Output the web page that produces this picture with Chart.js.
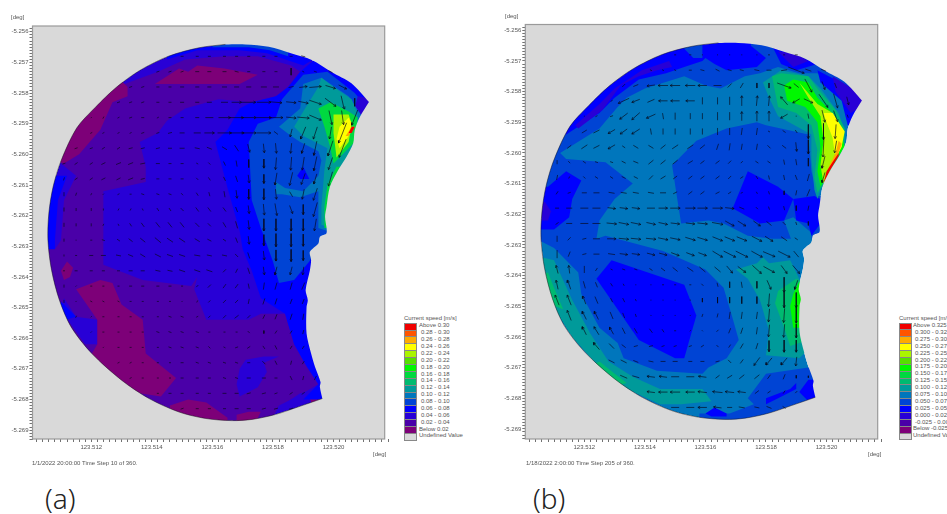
<!DOCTYPE html>
<html lang="en">
<head>
<meta charset="UTF-8">
<title>Current speed maps</title>
<script src="https://cdn.jsdelivr.net/npm/chart.js"></script>
<style>
html, body { margin: 0; background: #fff; width: 947px; height: 514px; overflow: hidden; }
canvas { position: absolute; top: 0; filter: blur(0.4px); }
.txt { position: absolute; font: 6px "Liberation Sans", Arial, sans-serif; color: #555; white-space: nowrap; line-height: 7px; }
.tag { position: absolute; font: 300 28px "Noto Sans", sans-serif; color: #222; line-height: 34px; }
.sw { position: absolute; width: 11px; height: 5.9px; border: 0.5px solid #888; }
</style>
</head>
<body>
<canvas id="chartA" width="390" height="470" style="left:0"></canvas>
<canvas id="chartB" width="390" height="470" style="left:493px"></canvas>
<div id="labels"></div>
<script>
// tick labels
const xTickLabels = [123.512, 123.514, 123.516, 123.518, 123.520];
const yTickLabels = [-5.256, -5.257, -5.258, -5.259, -5.260, -5.261, -5.262, -5.263, -5.264, -5.265, -5.266, -5.267, -5.268, -5.269];

// colour classes, lowest speed first
const classColors = ['#7d0078', '#4a00a8', '#2800d6', '#0000ff', '#0044d4', '#0076bc', '#009a9a', '#00ba70', '#00d840', '#00f800', '#55e000', '#aaf500', '#ffff00', '#ffaa00', '#ff5500', '#f00000'];
const undefinedColor = '#d9d9d9';
const legendTitle = 'Current speed [m/s]';
const aLegend = ['Below 0.02', '0.02 - 0.04', '0.04 - 0.06', '0.06 - 0.08', '0.08 - 0.10', '0.10 - 0.12', '0.12 - 0.14', '0.14 - 0.16', '0.16 - 0.18', '0.18 - 0.20', '0.20 - 0.22', '0.22 - 0.24', '0.24 - 0.26', '0.26 - 0.28', '0.28 - 0.30', 'Above 0.30'];
const bLegend = ['Below -0.025', '-0.025 - 0.000', '0.000 - 0.025', '0.025 - 0.050', '0.050 - 0.075', '0.075 - 0.100', '0.100 - 0.125', '0.125 - 0.150', '0.150 - 0.175', '0.175 - 0.200', '0.200 - 0.225', '0.225 - 0.250', '0.250 - 0.275', '0.275 - 0.300', '0.300 - 0.325', 'Above 0.325'];

// model domain outline [lon, lat]; the two sharp corners are listed twice
const domain = [[123.51643,-5.25641],[123.51556,-5.25652],[123.51457,-5.25679],[123.51362,-5.25725],[123.51283,-5.25781],[123.51214,-5.25846],[123.51152,-5.25914],[123.51101,-5.26019],[123.51074,-5.26106],[123.51060,-5.26192],[123.51057,-5.26280],[123.51069,-5.26378],[123.51095,-5.26476],[123.51134,-5.26564],[123.51201,-5.26649],[123.51300,-5.26737],[123.51391,-5.26797],[123.51490,-5.26841],[123.51578,-5.26862],[123.51664,-5.26869],[123.51731,-5.26865],[123.51808,-5.26849],[123.51884,-5.26824],[123.51963,-5.26797],[123.51963,-5.26797],[123.51955,-5.26759],[123.51957,-5.26743],[123.51939,-5.26694],[123.51926,-5.26650],[123.51911,-5.26585],[123.51911,-5.26498],[123.51915,-5.26476],[123.51908,-5.26443],[123.51922,-5.26378],[123.51926,-5.26345],[123.51922,-5.26318],[123.51950,-5.26291],[123.51955,-5.26269],[123.51977,-5.26257],[123.51972,-5.26204],[123.51977,-5.26171],[123.51988,-5.26106],[123.52015,-5.26052],[123.52043,-5.26008],[123.52065,-5.25964],[123.52070,-5.25921],[123.52087,-5.25878],[123.52117,-5.25829],[123.52117,-5.25829],[123.52059,-5.25768],[123.51993,-5.25731],[123.51928,-5.25692],[123.51862,-5.25671],[123.51786,-5.25649],[123.51709,-5.25641]];

// panel (a) contour regions
const a1Main = [[123.5110,-5.2603],[123.5114,-5.2594],[123.5121,-5.2584],[123.5131,-5.2577],[123.5142,-5.2573],[123.5151,-5.2569],[123.5164,-5.2568],[123.5175,-5.2568],[123.5186,-5.2571],[123.5189,-5.2573],[123.5185,-5.2578],[123.5181,-5.2581],[123.5173,-5.2583],[123.5162,-5.2582],[123.5151,-5.2585],[123.5145,-5.2589],[123.5142,-5.2593],[123.5136,-5.2596],[123.5138,-5.2604],[123.5138,-5.2609],[123.5124,-5.2612],[123.5124,-5.2636],[123.5137,-5.2641],[123.5153,-5.2643],[123.5155,-5.2640],[123.5154,-5.2644],[123.5158,-5.2654],[123.5172,-5.2654],[123.5176,-5.2652],[123.5184,-5.2652],[123.5187,-5.2662],[123.5191,-5.2669],[123.5195,-5.2675],[123.5188,-5.2679],[123.5182,-5.2682],[123.5178,-5.2690],[123.5123,-5.2690],[123.5103,-5.2648],[123.5105,-5.2625],[123.5108,-5.2631],[123.5110,-5.2628],[123.5111,-5.2615],[123.5115,-5.2607]];
const a2Sw = [[123.5111,-5.2647],[123.5115,-5.2653],[123.5122,-5.2654],[123.5122,-5.2662],[123.5118,-5.2662],[123.5110,-5.2651]];
const a2Blob = [[123.5169,-5.2670],[123.5171,-5.2667],[123.5177,-5.2666],[123.5182,-5.2666],[123.5177,-5.2668],[123.5178,-5.2671],[123.5175,-5.2676],[123.5169,-5.2679],[123.5168,-5.2675]];
const a2Se = [[123.5183,-5.2682],[123.5189,-5.2678],[123.5195,-5.2677],[123.5198,-5.2680],[123.5188,-5.2687]];
const a0North = [[123.5141,-5.2577],[123.5149,-5.2572],[123.5152,-5.2573],[123.5155,-5.2571],[123.5164,-5.2572],[123.5175,-5.2574],[123.5169,-5.2577],[123.5160,-5.2577],[123.5150,-5.2577]];
const a0Nw = [[123.5132,-5.2578],[123.5132,-5.2581],[123.5127,-5.2583],[123.5123,-5.2592],[123.5116,-5.2600],[123.5111,-5.2603],[123.5108,-5.2602],[123.5114,-5.2590],[123.5121,-5.2582],[123.5129,-5.2575]];
const a0West = [[123.5112,-5.2635],[123.5114,-5.2637],[123.5113,-5.2640],[123.5111,-5.2641],[123.5110,-5.2638]];
const a0Sw = [[123.5115,-5.2644],[123.5123,-5.2641],[123.5127,-5.2642],[123.5130,-5.2649],[123.5137,-5.2654],[123.5138,-5.2665],[123.5148,-5.2673],[123.5143,-5.2679],[123.5136,-5.2678],[123.5128,-5.2675],[123.5119,-5.2667],[123.5122,-5.2662],[123.5122,-5.2654]];
const a0South = [[123.5146,-5.2682],[123.5152,-5.2680],[123.5158,-5.2681],[123.5165,-5.2686],[123.5165,-5.2690],[123.5146,-5.2688]];
const a0South2 = [[123.5168,-5.2685],[123.5172,-5.2684],[123.5176,-5.2684],[123.5174,-5.2688],[123.5168,-5.2689]];
const a0Corner = [[123.5194,-5.2678],[123.5198,-5.2680],[123.5193,-5.2682],[123.5192,-5.2679]];
const a3East = [[123.5169,-5.2585],[123.5165,-5.2592],[123.5161,-5.2596],[123.5165,-5.2611],[123.5169,-5.2625],[123.5170,-5.2631],[123.5173,-5.2638],[123.5176,-5.2647],[123.5184,-5.2652],[123.5187,-5.2662],[123.5191,-5.2669],[123.5195,-5.2675],[123.5190,-5.2680],[123.5201,-5.2680],[123.5203,-5.2648],[123.5216,-5.2582],[123.5203,-5.2569],[123.5195,-5.2568],[123.5189,-5.2573],[123.5185,-5.2578],[123.5181,-5.2581],[123.5173,-5.2583]];
const a3Rim = [[123.5145,-5.2569],[123.5155,-5.2566],[123.5169,-5.2566],[123.5178,-5.2567],[123.5190,-5.2571],[123.5195,-5.2568],[123.5195,-5.2559],[123.5145,-5.2559]];
const a4Rim = [[123.5160,-5.2565],[123.5172,-5.2565],[123.5179,-5.2566],[123.5185,-5.2568],[123.5185,-5.2559],[123.5160,-5.2559]];
const a3West = [[123.5112,-5.2607],[123.5109,-5.2615],[123.5108,-5.2628],[123.5108,-5.2631],[123.5100,-5.2631],[123.5100,-5.2607]];
const a3Sw = [[123.5110,-5.2648],[123.5115,-5.2653],[123.5108,-5.2655]];
const a4East = [[123.5172,-5.2596],[123.5175,-5.2590],[123.5181,-5.2588],[123.5183,-5.2582],[123.5190,-5.2574],[123.5198,-5.2573],[123.5207,-5.2580],[123.5213,-5.2587],[123.5210,-5.2602],[123.5203,-5.2612],[123.5200,-5.2625],[123.5195,-5.2630],[123.5192,-5.2635],[123.5187,-5.2641],[123.5182,-5.2642],[123.5180,-5.2635],[123.5176,-5.2624],[123.5173,-5.2615]];
const a2Tip = [[123.5208,-5.2581],[123.5214,-5.2582],[123.5211,-5.2589],[123.5207,-5.2585]];
const a3Spot = [[123.5188,-5.2607],[123.5190,-5.2604],[123.5192,-5.2608],[123.5189,-5.2608]];
const a5Ring = [[123.5182,-5.2591],[123.5189,-5.2585],[123.5190,-5.2577],[123.5196,-5.2575],[123.5205,-5.2581],[123.5209,-5.2587],[123.5208,-5.2596],[123.5203,-5.2606],[123.5200,-5.2613],[123.5198,-5.2625],[123.5195,-5.2624],[123.5195,-5.2612],[123.5189,-5.2614],[123.5183,-5.2613],[123.5181,-5.2613],[123.5181,-5.2609],[123.5184,-5.2611],[123.5190,-5.2612],[123.5195,-5.2607],[123.5196,-5.2602],[123.5195,-5.2599],[123.5189,-5.2596],[123.5186,-5.2594]];
const a6Hot = [[123.5187,-5.2591],[123.5190,-5.2586],[123.5195,-5.2578],[123.5196,-5.2575],[123.5200,-5.2578],[123.5206,-5.2582],[123.5208,-5.2587],[123.5207,-5.2597],[123.5205,-5.2603],[123.5201,-5.2612],[123.5199,-5.2624],[123.5196,-5.2623],[123.5196,-5.2617],[123.5197,-5.2605],[123.5198,-5.2598],[123.5190,-5.2594]];
const a8Hot = [[123.5195,-5.2585],[123.5199,-5.2583],[123.5205,-5.2586],[123.5208,-5.2588],[123.5207,-5.2596],[123.5200,-5.2603],[123.5199,-5.2598],[123.5197,-5.2591]];
const a8Coast = [[123.5201,-5.2604],[123.5205,-5.2604],[123.5201,-5.2612],[123.5199,-5.2624],[123.5197,-5.2624],[123.5197,-5.2617],[123.5198,-5.2610]];
const a11Hot = [[123.5200,-5.2587],[123.5205,-5.2587],[123.5206,-5.2590],[123.5205,-5.2596],[123.5201,-5.2601],[123.5200,-5.2593]];
const a12Hot = [[123.5202,-5.2591],[123.5205,-5.2588],[123.5206,-5.2590],[123.5205,-5.2594],[123.5202,-5.2598],[123.5201,-5.2595]];
const a13Hot = [[123.5206,-5.2591],[123.5207,-5.2591],[123.5205,-5.2594],[123.5204,-5.2594]];
const a15Hot = [[123.5206,-5.2591],[123.5207,-5.2591],[123.5206,-5.2593],[123.5205,-5.2593]];
const aRegions = [[2,domain],[1,a1Main],[2,a2Sw],[2,a2Blob],[2,a2Se],[0,a0North],[0,a0Nw],[0,a0West],[0,a0Sw],[0,a0South],[0,a0South2],[0,a0Corner],[3,a3East],[3,a3Rim],[4,a4Rim],[3,a3West],[3,a3Sw],[4,a4East],[2,a2Tip],[3,a3Spot],[5,a5Ring],[6,a6Hot],[8,a8Hot],[8,a8Coast],[11,a11Hot],[12,a12Hot],[13,a13Hot],[15,a15Hot]];

// panel (b) contour regions
const b4North = [[123.5112,-5.2600],[123.5125,-5.2592],[123.5131,-5.2585],[123.5134,-5.2582],[123.5140,-5.2579],[123.5153,-5.2575],[123.5160,-5.2578],[123.5165,-5.2579],[123.5173,-5.2575],[123.5178,-5.2574],[123.5184,-5.2572],[123.5191,-5.2574],[123.5197,-5.2574],[123.5204,-5.2580],[123.5216,-5.2583],[123.5216,-5.2558],[123.5099,-5.2558],[123.5099,-5.2600]];
const b4West = [[123.5112,-5.2600],[123.5114,-5.2602],[123.5127,-5.2603],[123.5136,-5.2610],[123.5130,-5.2615],[123.5125,-5.2622],[123.5124,-5.2628],[123.5127,-5.2627],[123.5146,-5.2632],[123.5160,-5.2638],[123.5166,-5.2644],[123.5169,-5.2654],[123.5171,-5.2661],[123.5167,-5.2667],[123.5161,-5.2670],[123.5159,-5.2672],[123.5144,-5.2671],[123.5133,-5.2667],[123.5131,-5.2662],[123.5125,-5.2657],[123.5119,-5.2646],[123.5118,-5.2639],[123.5110,-5.2631],[123.5106,-5.2629],[123.5099,-5.2629],[123.5099,-5.2600]];
const b3West = [[123.5114,-5.2606],[123.5119,-5.2609],[123.5116,-5.2615],[123.5115,-5.2621],[123.5110,-5.2625],[123.5099,-5.2625],[123.5099,-5.2612],[123.5108,-5.2611]];
const b2West = [[123.5107,-5.2616],[123.5109,-5.2619],[123.5108,-5.2622],[123.5102,-5.2622],[123.5102,-5.2616]];
const b3Rim = [[123.5114,-5.2594],[123.5125,-5.2587],[123.5130,-5.2582],[123.5138,-5.2576],[123.5147,-5.2574],[123.5153,-5.2572],[123.5159,-5.2570],[123.5160,-5.2569],[123.5163,-5.2571],[123.5167,-5.2573],[123.5177,-5.2572],[123.5180,-5.2569],[123.5175,-5.2565],[123.5175,-5.2558],[123.5105,-5.2558],[123.5105,-5.2594]];
const b4Patch = [[123.5153,-5.2566],[123.5156,-5.2569],[123.5159,-5.2569],[123.5159,-5.2563],[123.5153,-5.2563]];
const b2Sliver = [[123.5117,-5.2591],[123.5125,-5.2584],[123.5130,-5.2579],[123.5139,-5.2573],[123.5148,-5.2570],[123.5149,-5.2572],[123.5144,-5.2573],[123.5138,-5.2575],[123.5132,-5.2578],[123.5126,-5.2586],[123.5118,-5.2592]];
const b4Center = [[123.5149,-5.2604],[123.5157,-5.2596],[123.5167,-5.2592],[123.5177,-5.2590],[123.5180,-5.2591],[123.5194,-5.2594],[123.5195,-5.2606],[123.5197,-5.2614],[123.5203,-5.2614],[123.5203,-5.2620],[123.5198,-5.2627],[123.5195,-5.2628],[123.5182,-5.2628],[123.5174,-5.2627],[123.5166,-5.2623],[123.5161,-5.2622],[123.5152,-5.2623],[123.5151,-5.2617]];
const b5Patch = [[123.5186,-5.2622],[123.5189,-5.2621],[123.5195,-5.2626],[123.5195,-5.2630],[123.5189,-5.2630]];
const b3Blob = [[123.5174,-5.2606],[123.5184,-5.2611],[123.5189,-5.2615],[123.5186,-5.2622],[123.5178,-5.2623],[123.5169,-5.2618]];
const b3Coast = [[123.5189,-5.2615],[123.5196,-5.2614],[123.5202,-5.2617],[123.5198,-5.2623],[123.5195,-5.2627],[123.5194,-5.2623],[123.5190,-5.2622]];
const b3Sw = [[123.5129,-5.2635],[123.5153,-5.2643],[123.5157,-5.2653],[123.5153,-5.2667],[123.5150,-5.2667],[123.5138,-5.2661],[123.5124,-5.2641]];
const b3Ne = [[123.5197,-5.2573],[123.5216,-5.2583],[123.5213,-5.2592],[123.5207,-5.2591],[123.5205,-5.2583],[123.5198,-5.2577]];
const b2Ne = [[123.5202,-5.2575],[123.5215,-5.2583],[123.5208,-5.2587],[123.5203,-5.2580]];
const b3Top = [[123.5182,-5.2565],[123.5197,-5.2571],[123.5190,-5.2573],[123.5185,-5.2571]];
const b2Top = [[123.5184,-5.2567],[123.5189,-5.2567],[123.5194,-5.2570],[123.5189,-5.2572]];
const b6Hot = [[123.5179,-5.2577],[123.5185,-5.2573],[123.5194,-5.2575],[123.5198,-5.2579],[123.5204,-5.2587],[123.5206,-5.2593],[123.5205,-5.2600],[123.5201,-5.2608],[123.5198,-5.2612],[123.5197,-5.2615],[123.5196,-5.2612],[123.5195,-5.2602],[123.5195,-5.2594],[123.5184,-5.2588],[123.5181,-5.2582]];
const b7Hot = [[123.5182,-5.2575],[123.5185,-5.2574],[123.5194,-5.2575],[123.5197,-5.2579],[123.5203,-5.2586],[123.5206,-5.2592],[123.5206,-5.2598],[123.5202,-5.2605],[123.5199,-5.2610],[123.5197,-5.2613],[123.5196,-5.2608],[123.5197,-5.2599],[123.5195,-5.2591],[123.5190,-5.2587],[123.5184,-5.2585],[123.5183,-5.2580]];
const b9Hot = [[123.5186,-5.2578],[123.5189,-5.2576],[123.5194,-5.2577],[123.5197,-5.2582],[123.5201,-5.2586],[123.5204,-5.2591],[123.5206,-5.2598],[123.5202,-5.2604],[123.5198,-5.2611],[123.5197,-5.2606],[123.5198,-5.2598],[123.5197,-5.2590],[123.5193,-5.2585],[123.5187,-5.2583]];
const b11Hot = [[123.5191,-5.2577],[123.5197,-5.2584],[123.5202,-5.2587],[123.5205,-5.2592],[123.5205,-5.2598],[123.5202,-5.2603],[123.5199,-5.2610],[123.5198,-5.2604],[123.5199,-5.2596],[123.5198,-5.2588],[123.5194,-5.2582]];
const b12Hot = [[123.5199,-5.2587],[123.5202,-5.2587],[123.5206,-5.2593],[123.5205,-5.2598],[123.5203,-5.2602],[123.5202,-5.2595],[123.5200,-5.2590]];
const b13Hot = [[123.5204,-5.2596],[123.5205,-5.2597],[123.5204,-5.2600],[123.5202,-5.2604],[123.5199,-5.2610],[123.5201,-5.2604],[123.5203,-5.2600]];
const b15Hot = [[123.5204,-5.2600],[123.5204,-5.2601],[123.5201,-5.2606],[123.5199,-5.2610],[123.5200,-5.2606]];
const b6Se = [[123.5170,-5.2638],[123.5177,-5.2636],[123.5179,-5.2634],[123.5181,-5.2636],[123.5188,-5.2635],[123.5191,-5.2641],[123.5194,-5.2651],[123.5194,-5.2664],[123.5191,-5.2667],[123.5180,-5.2666],[123.5181,-5.2658],[123.5178,-5.2648],[123.5174,-5.2641]];
const b7Se = [[123.5184,-5.2645],[123.5190,-5.2641],[123.5194,-5.2643],[123.5194,-5.2661],[123.5188,-5.2663],[123.5186,-5.2657],[123.5183,-5.2649]];
const b9Se = [[123.5189,-5.2646],[123.5191,-5.2642],[123.5194,-5.2643],[123.5194,-5.2657],[123.5189,-5.2657],[123.5188,-5.2650]];
const b4Se = [[123.5174,-5.2680],[123.5180,-5.2672],[123.5194,-5.2670],[123.5203,-5.2671],[123.5203,-5.2690],[123.5158,-5.2690],[123.5158,-5.2685],[123.5168,-5.2685],[123.5176,-5.2682]];
const b3Se = [[123.5180,-5.2680],[123.5188,-5.2677],[123.5190,-5.2675],[123.5190,-5.2677],[123.5184,-5.2680],[123.5180,-5.2682]];
const b3SeCoast = [[123.5194,-5.2674],[123.5200,-5.2674],[123.5200,-5.2681],[123.5194,-5.2681],[123.5191,-5.2678]];
const b3South = [[123.5160,-5.2685],[123.5163,-5.2683],[123.5167,-5.2685],[123.5167,-5.2686],[123.5162,-5.2686]];
const b6Sw = [[123.5106,-5.2634],[123.5110,-5.2635],[123.5116,-5.2648],[123.5122,-5.2659],[123.5128,-5.2668],[123.5136,-5.2673],[123.5145,-5.2677],[123.5159,-5.2677],[123.5162,-5.2681],[123.5152,-5.2682],[123.5145,-5.2682],[123.5132,-5.2676],[123.5125,-5.2670],[123.5116,-5.2660],[123.5111,-5.2652],[123.5102,-5.2641]];
const b7Sw = [[123.5108,-5.2639],[123.5110,-5.2644],[123.5113,-5.2651],[123.5105,-5.2648],[123.5102,-5.2641]];
const b7Sw2 = [[123.5125,-5.2668],[123.5130,-5.2672],[123.5134,-5.2675],[123.5130,-5.2676],[123.5123,-5.2669]];
const bRegions = [[5,domain],[4,b4North],[4,b4West],[3,b3West],[2,b2West],[3,b3Rim],[4,b4Patch],[2,b2Sliver],[4,b4Center],[5,b5Patch],[3,b3Blob],[3,b3Coast],[3,b3Sw],[3,b3Ne],[2,b2Ne],[3,b3Top],[2,b2Top],[6,b6Hot],[7,b7Hot],[9,b9Hot],[11,b11Hot],[12,b12Hot],[13,b13Hot],[15,b15Hot],[6,b6Se],[7,b7Se],[9,b9Se],[4,b4Se],[3,b3Se],[3,b3SeCoast],[3,b3South],[6,b6Sw],[7,b7Sw],[7,b7Sw2]];

// current vector grid, shared by both panels
const vecLon = [123.5111,123.5115,123.5120,123.5124,123.5129,123.5133,123.5137,123.5142,123.5146,123.5150,123.5155,123.5159,123.5164,123.5168,123.5172,123.5177,123.5181,123.5186,123.5190,123.5194,123.5199,123.5203,123.5207];
const vecLat = [-5.2568,-5.2573,-5.2578,-5.2583,-5.2588,-5.2593,-5.2598,-5.2603,-5.2608,-5.2613,-5.2618,-5.2623,-5.2628,-5.2633,-5.2638,-5.2643,-5.2648,-5.2653,-5.2658,-5.2663,-5.2668,-5.2673,-5.2678,-5.2683];
const vecFirst = [9,7,5,4,2,2,1,0,0,0,0,0,0,0,0,0,0,1,2,3,4,5,7,9];

const aU = [
 [3,3,3,3,3,3,3,3,3,4],
 [3,3,3,4,4,4,4,3,3,3,0,2,3,4],
 [3,3,3,3,4,4,4,5,5,5,6,6,5,8,12,10,8],
 [3,3,3,3,3,4,4,5,7,10,14,14,12,10,10,12,11,3,0],
 [1,1,2,3,3,2,3,3,4,8,12,14,15,15,14,10,12,12,3,2,-6],
 [2,2,2,2,3,3,4,5,7,10,14,15,15,14,4,-2,-5,-4,-2,-8],
 [3,3,3,3,4,4,4,4,5,5,5,5,4,2,1,1,-1,-3,-3,-5,-7],
 [3,3,3,4,5,5,5,4,3,3,2,2,2,1,0,0,-1,-1,-2,-3,-4],
 [1,3,3,4,4,5,4,3,3,3,2,2,2,2,1,0,-2,-3,-4,-3,-4],
 [0,1,1,1,2,2,3,3,3,2,2,1,1,1,0,0,1,3,-2,-4],
 [0,0,0,0,1,1,1,2,2,3,3,3,3,2,1,1,2,3,0,-4],
 [0,0,0,1,1,2,3,4,4,4,4,3,3,2,1,0,0,0,0,-2],
 [0,1,2,3,3,4,5,6,6,6,5,4,3,2,1,0,0,0,0],
 [0,2,4,5,5,5,5,6,6,6,6,5,5,3,2,1,0,0,0],
 [2,3,3,3,3,4,4,5,5,6,6,6,3,2,2,1,-2,-2,-1],
 [0,1,2,2,2,3,3,3,3,2,2,3,3,3,1,-1,-2,-2,-3],
 [0,1,2,2,2,2,2,2,2,1,1,2,3,3,-1,-2,-2,-2,-2],
 [1,1,2,2,2,2,2,3,3,2,2,3,4,3,2,-2,-2,-1],
 [1,2,2,2,2,3,3,3,3,2,2,2,2,0,-2,-2,-1],
 [1,2,2,2,2,3,3,3,2,2,3,3,2,2,-2,-2],
 [2,2,2,2,2,3,3,3,3,3,3,3,2,-1,-2],
 [2,2,2,2,3,3,3,3,3,4,4,3,2,-1,-2],
 [2,3,3,3,3,4,4,4,4,3,3,3],
 [3,3,3,3,4,4,4,4,4]
];
const aV = [
 [0,0,0,0,0,0,0,0,0,-1],
 [1,1,1,0,0,0,-1,0,0,0,-7,-1,-1,-2],
 [1,1,0,0,0,0,0,0,0,0,0,0,1,1,1,-3,-4],
 [1,1,1,0,0,0,0,0,0,0,0,0,-1,-1,-2,-4,-8,-13,-8],
 [1,2,1,1,0,1,0,0,0,0,0,0,0,0,0,-1,-1,-5,-14,-14,-15],
 [1,1,1,1,1,1,1,0,0,0,0,0,0,0,-3,-8,-12,-12,-12,-20],
 [1,1,2,2,1,1,1,0,0,-1,-2,-3,-6,-8,-9,-10,-10,-10,-14,-15,-18],
 [1,2,2,2,2,2,1,0,0,0,-1,-2,-4,-6,-8,-9,-12,-13,-13,-14,-12],
 [3,2,2,2,2,2,1,0,0,0,-2,-3,-4,-6,-8,-9,-12,-13,-11,-10,-14],
 [4,3,2,1,1,0,-1,-1,-1,-2,-3,-4,-6,-8,-10,-11,-10,-5,-10,-12],
 [4,3,3,2,2,2,-2,-3,-3,-3,-4,-4,-4,-5,-8,-11,-12,-8,-10,-14],
 [4,3,3,2,-2,-3,-4,-5,-5,-5,-4,-3,-5,-7,-9,-12,-12,-12,-12,-12],
 [3,0,0,-1,-2,-3,-4,-5,-4,-4,-3,-2,-2,-5,-8,-11,-13,-13,-12],
 [2,0,0,0,-1,-2,-3,-3,-2,-2,-1,-1,-1,-3,-6,-9,-11,-12,-10],
 [0,0,0,0,0,0,0,-1,-1,-2,-2,-2,3,4,-6,-8,-8,-8,-8],
 [3,1,0,0,0,0,0,0,0,0,2,3,4,4,-5,-7,-7,-7,-7],
 [3,1,-1,-1,-1,0,0,0,0,1,2,2,3,3,-5,-6,-6,-5,-5],
 [2,1,0,0,0,0,0,-1,-1,1,2,3,3,3,4,-5,-6,-6],
 [1,0,0,0,0,-1,-1,-1,-1,0,0,0,-2,-3,-3,-3,-4],
 [1,0,0,0,0,-1,-1,-1,-2,-1,1,2,-3,-4,-3,-3],
 [1,1,0,0,0,0,-1,-1,-1,-1,0,-3,-4,-4,-3],
 [1,0,0,0,0,0,0,-1,-1,0,0,0,-4,-4,-4],
 [0,0,0,0,0,0,0,1,1,1,2,2],
 [1,0,0,0,0,0,1,1,1]
];
const bU = [
 [2,2,1,1,1,1,1,2,2,3],
 [-2,-2,-2,-3,-4,-4,-4,4,5,5,6,16,6,-5],
 [-3,-5,-8,-10,-10,-10,-9,-8,-4,-3,0,0,14,5,7,3,2],
 [-2,-11,-8,-7,-9,-9,-9,0,0,0,0,1,1,-7,-7,9,9,4,2],
 [-1,-2,-3,-8,-8,-9,-1,0,0,0,0,0,0,0,0,-7,-1,1,3,4,1],
 [-5,-6,-7,-7,-8,-1,0,0,0,0,0,0,1,1,2,3,2,0,0,-1],
 [-4,-6,-6,-7,3,5,5,5,6,6,5,2,1,1,1,3,4,1,0,-1,-2],
 [0,-2,-3,-3,3,4,5,5,5,5,5,4,4,3,2,3,3,1,1,0,-3],
 [1,1,2,3,3,4,4,4,5,4,4,4,4,3,3,2,1,1,2,-2,-3],
 [2,3,5,6,6,6,6,6,6,4,4,4,4,3,2,1,1,0,-1,-3],
 [4,6,8,8,8,8,8,8,9,10,10,10,10,9,5,2,1,1,0,-1],
 [3,6,8,8,10,10,10,9,9,9,9,10,11,9,8,7,5,3,1,0],
 [0,3,4,7,9,10,10,10,10,10,10,10,10,10,10,10,8,6,3],
 [0,2,4,6,7,8,8,8,8,8,8,8,10,12,12,11,12,12,5],
 [-2,-1,0,2,2,3,3,3,4,5,6,6,6,6,8,9,11,6,7],
 [-2,-3,-2,-2,2,1,1,1,2,2,2,2,1,0,1,0,4,0,-3],
 [-4,-4,-3,-3,2,2,1,1,1,1,1,0,0,0,0,0,-1,0,0],
 [-4,-4,-4,-3,2,1,1,1,1,-1,-1,-1,-1,-1,-1,-1,-1,0],
 [-4,-5,-4,-3,-3,3,2,2,1,-1,-2,-2,-2,-1,-1,-1,0],
 [-6,-5,-4,4,4,3,3,3,3,-2,-2,-3,-2,0,0,0],
 [-6,-6,-5,-5,-5,-5,-4,-4,4,-3,-3,-6,-6,-6,-1],
 [-7,-7,-8,-8,-8,-8,-8,-4,-5,-5,-5,-3,-2,0,0],
 [-8,-9,-10,-9,-9,-10,-9,-8,-4,-3,-2,-2],
 [-8,-8,-9,-8,-5,-6,-5,-5,-3]
];
const bV = [
 [0,0,0,0,0,0,0,0,0,0],
 [1,1,1,0,1,2,1,-1,-1,0,1,-6,-2,2],
 [-3,-2,-1,0,0,0,0,0,-4,-5,-5,-5,-5,-4,-13,-8,-5],
 [-1,-5,-3,-3,0,0,0,7,7,8,10,10,10,8,-4,-4,-13,-14,-8],
 [0,-1,-1,-6,-7,-4,6,7,6,6,8,8,9,10,10,-4,0,-5,-12,-11,-3],
 [-3,-3,-4,-5,-5,6,6,6,6,6,7,7,7,7,-1,-2,-3,-14,-16,-14],
 [-3,-4,-3,-4,-2,-3,-3,4,4,4,4,6,7,6,6,-3,-3,-9,-14,-20,-12],
 [4,2,2,1,-1,-2,-2,4,4,4,3,3,3,3,2,-2,-2,-5,-6,-8,-12],
 [5,2,-2,-2,-2,-2,-2,4,3,3,3,3,3,3,2,-3,-4,-5,-5,-7,-10],
 [3,1,0,0,-1,-1,-1,-1,0,2,3,3,2,2,1,-2,-3,-4,-5,-7],
 [0,0,0,0,-1,-1,-1,0,0,0,0,0,0,-1,-2,-2,-3,-4,-5,-5],
 [2,0,0,0,-1,-2,-2,-2,-2,-1,-1,-1,-2,-5,-5,-5,-4,-3,-3,-4],
 [6,3,1,0,0,-1,-1,-1,-2,-2,-3,-3,-4,-4,-4,-5,-5,-4,-2],
 [8,5,1,0,-1,-1,-1,-2,-2,-3,-3,-3,-6,-6,-6,-6,-5,-6,-6],
 [8,8,7,3,-1,-1,-1,-2,-3,-4,-4,-5,-5,-7,-6,-8,-6,-8,-8],
 [9,9,7,5,-3,-2,0,0,0,0,0,-2,-4,-6,-6,-7,-9,-15,-9],
 [10,10,8,7,-4,-4,-2,0,0,0,0,-4,-6,-6,-7,-7,-13,-15,-15],
 [10,8,8,7,-5,-3,-1,0,0,-1,-3,-4,-7,-7,-7,-13,-14,-15],
 [8,8,7,6,5,-4,-3,0,1,1,-2,-5,-6,-7,-12,-13,-14],
 [7,5,3,1,1,1,1,1,2,2,-3,-5,-6,-11,-12,-12],
 [3,3,2,1,0,0,0,0,1,3,-4,-8,-7,-7,-9],
 [3,2,1,1,0,0,1,-3,-3,-4,-4,-4,-5,-3,-2],
 [1,0,0,0,1,1,1,1,-3,-2,-3,-2],
 [0,0,0,1,0,1,1,2,2]
];

const VEC_DEG = 3.3e-5;   // vector units to degrees on the map

function vectorPoints(us, vs) {
  const pts = [];
  const gap = {x: NaN, y: NaN};
  us.forEach((row, r) => row.forEach((u, i) => {
    const v = vs[r][i] || 0;
    const len = Math.hypot(u, v);
    if (!len) return;
    const lon = vecLon[vecFirst[r] + i], lat = vecLat[r];
    const tx = lon - u * VEC_DEG / 2, ty = lat - v * VEC_DEG / 2;
    const hx = lon + u * VEC_DEG / 2, hy = lat + v * VEC_DEG / 2;
    pts.push({x: tx, y: ty}, {x: hx, y: hy}, gap);
    if (len > 8) {
      const ux = u / len, uy = v / len, b = 2.6 * VEC_DEG;
      pts.push({x: hx - b * (ux * 0.87 - uy * 0.5), y: hy - b * (uy * 0.87 + ux * 0.5)}, {x: hx, y: hy},
               {x: hx - b * (ux * 0.87 + uy * 0.5), y: hy - b * (uy * 0.87 - ux * 0.5)}, gap);
    }
  }));
  return pts;
}

function makeMap(canvasId, regions, us, vs, area) {
  const n = regions.length;
  const poly = p => p.map(([x, y]) => ({x, y}));
  const datasets = regions.map(([cls, pts], i) => ({
    data: poly(pts), showLine: true, pointRadius: 0, borderWidth: 0, tension: pts === domain ? 0.3 : 0,
    backgroundColor: classColors[cls], fill: 'shape', order: n - i + 3
  }));
  // grey land outside the domain, duplicated points keep the bridge to the frame straight
  const p0 = {x: domain[0][0], y: domain[0][1]};
  const top = {x: p0.x, y: area.yMax + 0.001};
  const maskPts = poly(domain).concat([p0, p0, top, top, {x: area.xMax + 0.001, y: top.y}, {x: area.xMax + 0.001, y: area.yMin - 0.001},
    {x: area.xMin - 0.001, y: area.yMin - 0.001}, {x: area.xMin - 0.001, y: top.y}, top, top]);
  datasets.push({data: maskPts, showLine: true, pointRadius: 0, borderWidth: 0, tension: 0.3,
    backgroundColor: undefinedColor, fill: 'shape', order: 3});
  datasets.push({data: poly(domain.slice(0, 24)), showLine: true, pointRadius: 0, borderWidth: 0.6, tension: 0.3,
    borderColor: 'rgba(16,16,24,0.8)', fill: false, order: 2});
  datasets.push({data: vectorPoints(us, vs), showLine: true, pointRadius: 0, borderWidth: 0.75, spanGaps: false,
    borderColor: 'rgba(8,8,24,0.88)', fill: false, order: 1});

  const axisFont = {family: '"Liberation Sans", Arial, sans-serif', size: 6};
  new Chart(document.getElementById(canvasId), {
    type: 'scatter',
    data: {datasets},
    options: {
      responsive: false, animation: false, events: [],
      layout: {padding: {top: area.top, right: area.right, left: 0, bottom: 0}},
      plugins: {legend: {display: false}, tooltip: {enabled: false}},
      scales: {
        x: {
          type: 'linear', min: area.xMin, max: area.xMax,
          grid: {drawOnChartArea: false, tickLength: 3, tickColor: '#333', tickWidth: 0.7},
          border: {display: false},
          afterBuildTicks: s => {
            const t = [];
            for (let k = 0; k <= 58; k++) t.push({value: 123.5102 + k * 0.0002});
            s.ticks = t;
          },
          afterFit: s => { s.height = area.axisH; },
          ticks: {
            font: axisFont, color: '#555', maxRotation: 0, autoSkip: false, padding: 2,
            callback: v => xTickLabels.some(l => Math.abs(l - v) < 1e-6) ? v.toFixed(3) : ''
          }
        },
        y: {
          type: 'linear', min: area.yMin, max: area.yMax,
          grid: {drawOnChartArea: false, tickLength: 3, tickColor: '#333', tickWidth: 0.7},
          border: {display: false},
          afterBuildTicks: s => {
            const t = [];
            for (let k = 0; k <= 134; k++) t.push({value: -5.2559 - k * 0.0001});
            s.ticks = t;
          },
          afterFit: s => { s.width = area.axisW; },
          ticks: {
            font: axisFont, color: '#555', autoSkip: false, padding: 1,
            callback: v => yTickLabels.some(l => Math.abs(l - v) < 1e-6) ? v.toFixed(3) : ''
          }
        }
      }
    },
    plugins: [{
      id: 'frame',
      afterDatasetsDraw(chart) {
        const {ctx, chartArea: c} = chart;
        ctx.save();
        ctx.strokeStyle = '#9a9a9a';
        ctx.lineWidth = 1.2;
        ctx.strokeRect(c.left, c.top, c.right - c.left, c.bottom - c.top);
        ctx.restore();
      }
    }]
  });
}

makeMap('chartA', aRegions, aU, aV, {xMin: 123.51006, xMax: 123.52169, yMin: -5.26929, yMax: -5.25581, top: 26, right: 2.5, axisW: 32.5, axisH: 31});
makeMap('chartB', bRegions, bU, bV, {xMin: 123.51005, xMax: 123.52169, yMin: -5.26933, yMax: -5.25581, top: 24.5, right: 1.3, axisW: 32.3, axisH: 31});

// axis captions, time line, legends
const box = document.getElementById('labels');
function addText(cls, text, x, y) {
  const d = document.createElement('div');
  d.className = cls; d.textContent = text;
  d.style.left = x + 'px'; d.style.top = y + 'px';
  box.appendChild(d);
}
function addLegend(labels, swatchX, textX, topY) {
  addText('txt', legendTitle, swatchX, topY - 8);
  const rows = labels.slice().reverse();
  const colors = classColors.slice().reverse();
  rows.forEach((label, i) => {
    const y = topY + i * 6.88;
    const s = document.createElement('div');
    s.className = 'sw'; s.style.left = swatchX + 'px'; s.style.top = y + 'px'; s.style.background = colors[i];
    box.appendChild(s);
    addText('txt', label, textX + (label.indexOf(' - ') > 0 ? 2 : 0), y - 0.3);
  });
  const y = topY + rows.length * 6.88;
  const s = document.createElement('div');
  s.className = 'sw'; s.style.left = swatchX + 'px'; s.style.top = y + 'px'; s.style.background = undefinedColor;
  box.appendChild(s);
  addText('txt', 'Undefined Value', textX, y - 0.3);
}
addText('txt', '[deg]', 11, 14);
addText('txt', '[deg]', 505, 13);
addText('txt', '[deg]', 373, 451);
addText('txt', '[deg]', 868, 451);
addText('txt', '1/1/2022 20:00:00  Time Step 10 of 360.', 32, 460);
addText('txt', '1/18/2022 2:00:00  Time Step 205 of 360.', 526, 460);
addText('tag', '(a)', 45, 481);
addText('tag', '(b)', 533, 481);
addLegend(aLegend, 404, 419, 322.7);
addLegend(bLegend, 899, 913, 322.5);
</script>
</body>
</html>
